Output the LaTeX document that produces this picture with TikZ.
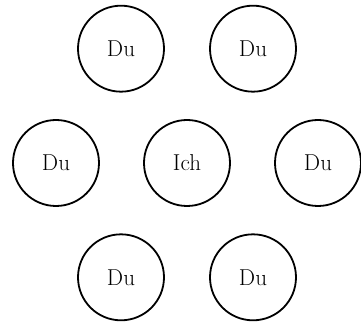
\documentclass[tikz,border=0pt]{standalone}
\usepackage{tikz}
\usetikzlibrary{positioning}
\tikzset{
  person/.style={circle, draw=black, line width=1.8pt, minimum size=86pt,
    inner sep=0pt, align=center, font=\fontsize{23}{26}\selectfont},
  ich/.style={person}
}
\begin{document}
\begin{tikzpicture}[x=1pt, y=1pt]
  \useasboundingbox (-187,-160) rectangle (174,163);
  \node[ich] (ich) at (0,0) {Ich};
  \node[person] (duo) at (60:132) {Du};
  \node[person] (dunw) at (120:132) {Du};
  \node[person] (duw) at (180:131) {Du};
  \node[person] (duee) at (0:131) {Du};
  \node[person] (dusw) at (240:132) {Du};
  \node[person] (duso) at (300:132) {Du};
\end{tikzpicture}
\end{document}
